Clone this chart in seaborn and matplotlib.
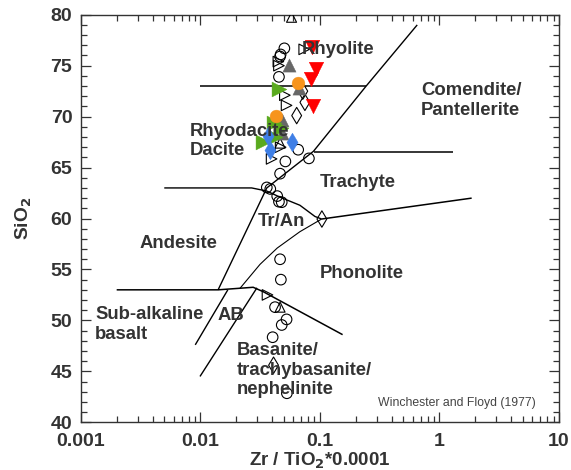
import matplotlib
matplotlib.use("Agg")
import matplotlib.pyplot as plt
from matplotlib.ticker import MultipleLocator, FixedLocator, LogLocator, NullFormatter
import pandas as pd
import seaborn as sns

sns.set_theme(style="ticks")
plt.rcParams['font.family'] = ['Liberation Sans', 'DejaVu Sans']

TXT = '#333333'

# ---------------- sample data (Zr/TiO2*0.0001, SiO2) ----------------
open_circle_x = [0.0505, 0.0470, 0.0465, 0.0455, 0.0659, 0.0810, 0.0515, 0.0465,
                 0.0360, 0.0385, 0.0440, 0.0455, 0.0480, 0.0465, 0.0472,
                 0.0422, 0.0527, 0.0480, 0.0403, 0.0530]
open_circle_y = [76.7, 76.1, 75.9, 73.9, 66.75, 65.9, 65.6, 64.4,
                 63.05, 62.9, 62.2, 61.65, 61.6, 56.0, 54.0,
                 51.3, 50.1, 49.55, 48.35, 42.85]

open_rtri_x = [0.0740, 0.0450, 0.0455, 0.0510, 0.0527, 0.0470, 0.0395, 0.0365]
open_rtri_y = [76.6, 75.4, 75.0, 72.1, 71.1, 67.0, 65.85, 52.5]

open_diamond_x = [0.0720, 0.0750, 0.0640, 0.1040, 0.0410]
open_diamond_y = [72.5, 71.4, 70.1, 59.95, 45.6]

open_utri_x = [0.0580, 0.0465, 0.0465]
open_utri_y = [79.75, 67.4, 51.3]

red_dtri_x = [0.0855, 0.0920, 0.0843, 0.0880]
red_dtri_y = [76.8, 74.7, 73.65, 71.05]

grey_utri_x = [0.0548, 0.0665, 0.0480, 0.0485]
grey_utri_y = [75.1, 72.85, 69.7, 68.35]

green_rtri_x = [0.0455, 0.0410, 0.0470, 0.0335, 0.0420]
green_rtri_y = [72.7, 69.35, 68.9, 67.55, 67.95]

orange_circle_x = [0.0660, 0.0432]
orange_circle_y = [73.3, 70.1]

blue_diamond_x = [0.0365, 0.0582, 0.0385]
blue_diamond_y = [68.1, 67.55, 66.7]

# ---------------- field boundaries (Winchester & Floyd 1977) ----------------
rhy_x, rhy_y = [0.01, 0.244], [73.0, 73.0]
com_x, com_y = [0.0141, 0.0360, 0.0885, 0.244, 0.652], [53.0, 63.0, 66.6, 73.0, 79.0]
trh_x, trh_y = [0.0885, 1.31], [66.5, 66.5]
and_x = [0.005, 0.0269, 0.0359, 0.0463, 0.0681, 0.0910, 0.1035]
and_y = [63.0, 63.0, 62.7, 62.1, 61.3, 60.2, 59.95]
trp_x, trp_y = [0.1035, 1.86], [59.95, 62.0]
tran_x = [0.1035, 0.0680, 0.0440, 0.0316, 0.0215]
tran_y = [59.95, 58.7, 57.1, 55.5, 53.15]
bas_x = [0.002, 0.0141, 0.0277, 0.0336, 0.155]
bas_y = [53.0, 53.0, 53.25, 52.82, 48.6]
sab_x, sab_y = [0.00908, 0.0170], [47.6, 53.0]
abb_x, abb_y = [0.00995, 0.0298], [44.5, 53.2]

# ---------------- field labels ----------------
label_text = ['Rhyolite', 'Comendite/\nPantellerite', 'Rhyodacite\nDacite', 'Trachyte',
              'Tr/An', 'Andesite', 'Phonolite', 'Sub-alkaline\nbasalt', 'AB',
              'Basanite/\ntrachybasanite/\nnephelinite']
label_x = [0.0708, 0.698, 0.0082, 0.1005, 0.0305, 0.0031, 0.1005, 0.00132, 0.0140, 0.0203]
label_y = [76.6, 71.6, 67.6, 63.5, 59.7, 57.5, 54.6, 49.6, 50.5, 45.1]

fig = plt.figure(figsize=(5.71, 4.70), dpi=100)
ax = fig.add_axes([0.1413, 0.1015, 0.8377, 0.8672])

lines = [(rhy_x, rhy_y, 1.1), (com_x, com_y, 1.0), (trh_x, trh_y, 1.1),
         (and_x, and_y, 1.0), (trp_x, trp_y, 1.1), (tran_x, tran_y, 0.8),
         (bas_x, bas_y, 1.1), (sab_x, sab_y, 1.0), (abb_x, abb_y, 1.0)]
for lx, ly, lw in lines:
    ax.plot(lx, ly, color='black', lw=lw, zorder=2, solid_capstyle='butt')


def pts(x, y, marker, size, face, edge='black', lw=0.8):
    sns.scatterplot(x=x, y=y, marker=marker, s=size, ax=ax, zorder=3, legend=False)
    c = ax.collections[-1]
    c.set_facecolor(face)
    c.set_edgecolor(edge)
    c.set_linewidth(lw)


pts(open_circle_x, open_circle_y, 'o', 58, 'none')
pts(open_rtri_x, open_rtri_y, '>', 58, 'none')
pts(open_diamond_x, open_diamond_y, 'd', 70, 'none')
pts(open_utri_x, open_utri_y, '^', 52, 'none')
pts(red_dtri_x, red_dtri_y, 'v', 110, '#ff0000', '#ff0000', 0.3)
pts(grey_utri_x, grey_utri_y, '^', 90, '#676767', '#676767', 0.3)
pts(green_rtri_x, green_rtri_y, '>', 115, '#5aaa1e', '#5aaa1e', 0.3)
pts(orange_circle_x, orange_circle_y, 'o', 85, '#f7941d', '#f7941d', 0.3)
pts(blue_diamond_x, blue_diamond_y, 'd', 90, '#3f7fe6', '#3f7fe6', 0.3)

for t, x, y in zip(label_text, label_x, label_y):
    ax.text(x, y, t, fontsize=13.3, fontweight='bold', color=TXT,
            ha='left', va='center', linespacing=1.2, zorder=4)
ax.text(6.45, 41.9, 'Winchester and Floyd (1977)', fontsize=8.8, color='#444444',
        ha='right', va='center', zorder=4)

ax.set_xscale('log')
ax.set_xlim(0.001, 10)
ax.set_ylim(40, 80)
ax.xaxis.set_major_locator(FixedLocator([0.001, 0.01, 0.1, 1, 10]))
ax.set_xticklabels(['0.001', '0.01', '0.1', '1', '10'])
ax.xaxis.set_minor_locator(LogLocator(base=10, subs=range(2, 10)))
ax.xaxis.set_minor_formatter(NullFormatter())
ax.yaxis.set_major_locator(MultipleLocator(5))
ax.yaxis.set_minor_locator(MultipleLocator(1))
ax.tick_params(which='both', direction='in', top=True, right=True, bottom=True, left=True,
               color='#333333', width=0.9)
ax.tick_params(which='major', length=7, labelsize=14, labelcolor=TXT)
ax.tick_params(axis='y', which='major', pad=6)
ax.tick_params(axis='x', which='major', pad=7.5)
ax.tick_params(which='minor', length=4)
for lab in ax.get_xticklabels() + ax.get_yticklabels():
    lab.set_fontweight('bold')
for sp in ax.spines.values():
    sp.set_color('#333333')
    sp.set_linewidth(1.0)

ax.set_xlabel('Zr / TiO$_\\mathbf{2}$*0.0001', fontsize=13.5, fontweight='bold', color=TXT, labelpad=0.5)
ax.set_ylabel('SiO$_\\mathbf{2}$', fontsize=13.8, fontweight='bold', color=TXT, labelpad=12)

fig.savefig('out.png', dpi=100, facecolor='white')
